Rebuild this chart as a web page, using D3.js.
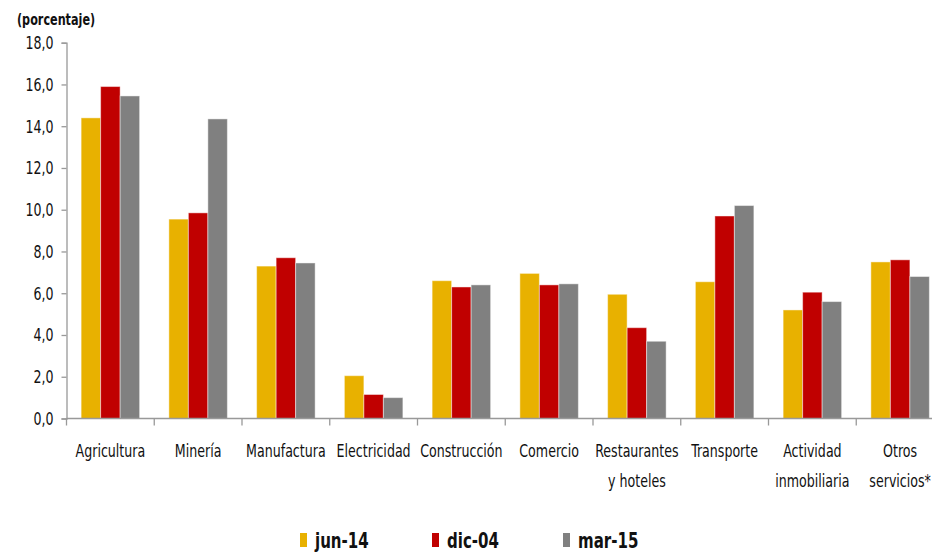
<!DOCTYPE html>
<html>
<head>
<meta charset="utf-8">
<script src="https://cdn.jsdelivr.net/npm/d3@7"></script>
<style>
  html, body { margin: 0; padding: 0; background: #fff; }
  svg { display: block; }
  svg text { font-family: "DejaVu Sans Condensed", "DejaVu Sans", sans-serif; font-stretch: condensed; }
</style>
</head>
<body>
<svg id="chart" width="932" height="555"></svg>
<script>
// Sector categories (second line after "\n")
const categories = [
  "Agricultura", "Minería", "Manufactura", "Electricidad", "Construcción",
  "Comercio", "Restaurantes\ny hoteles", "Transporte", "Actividad\ninmobiliaria", "Otros\nservicios*"
];
const seriesNames = ["jun-14", "dic-04", "mar-15"];
const seriesColors = ["#E8B100", "#C00000", "#808080"];
const jun14 = [14.4, 9.55, 7.3, 2.05, 6.6, 6.95, 5.95, 6.55, 5.2, 7.5];
const dic04 = [15.9, 9.85, 7.7, 1.15, 6.3, 6.4, 4.35, 9.7, 6.05, 7.6];
const mar15 = [15.45, 14.35, 7.45, 1.0, 6.4, 6.45, 3.7, 10.2, 5.6, 6.8];
const yTicks = [0, 2, 4, 6, 8, 10, 12, 14, 16, 18];

const series = [jun14, dic04, mar15];
const svg = d3.select("#chart");

const x0 = 66.5, x1 = 944, yBottom = 418.5, yTop = 42.7;

const x = d3.scaleBand().domain(categories).range([x0, x1])
  .paddingInner(1 / 3).paddingOuter(1 / 6);
const xs = d3.scaleBand().domain(seriesNames).range([0, x.bandwidth()]);
const y = d3.scaleLinear().domain([0, 18]).range([yBottom, yTop]);

const fmt = v => d3.format(".1f")(v).replace(".", ",");

// Y axis (labels drawn separately so they can be narrowed)
const yAxis = svg.append("g").attr("transform", `translate(${x0},0)`)
  .call(d3.axisLeft(y).tickValues(yTicks).tickFormat("").tickSize(5));
yAxis.select(".domain").attr("stroke", "#999").attr("stroke-width", 1.3);
yAxis.selectAll(".tick line").attr("stroke", "#999").attr("stroke-width", 1.3);
svg.append("g").selectAll("g").data(yTicks).join("g")
  .attr("transform", d => `translate(${x0 - 13},${y(d)}) scale(0.8,1)`)
  .append("text")
  .attr("text-anchor", "end").attr("dy", "0.36em")
  .attr("font-size", 17.5).attr("fill", "#111")
  .text(fmt);

// Unit label
svg.append("g").attr("transform", "translate(17,25) scale(0.78,1)")
  .append("text")
  .attr("font-size", 16).attr("font-weight", "bold").attr("fill", "#111")
  .text("(porcentaje)");

// Bars
const groups = svg.append("g").selectAll("g").data(categories).join("g")
  .attr("transform", d => `translate(${x(d)},0)`);
groups.selectAll("rect")
  .data((d, i) => series.map((s, k) => ({ key: seriesNames[k], value: s[i], color: seriesColors[k] })))
  .join("rect")
  .attr("x", d => xs(d.key))
  .attr("width", xs.bandwidth())
  .attr("y", d => y(d.value))
  .attr("height", d => y(0) - y(d.value))
  .attr("fill", d => d.color)
  .attr("stroke", "rgba(255,255,255,0.45)")
  .attr("stroke-width", 1);

// X axis line and separator ticks at category boundaries
const xAxis = svg.append("g");
xAxis.append("line").attr("x1", x0).attr("x2", x1).attr("y1", yBottom).attr("y2", yBottom)
  .attr("stroke", "#999").attr("stroke-width", 1.5);
const bounds = categories.map(c => x(c) - x.step() * x.paddingInner() / 2);
bounds.push(x1);
xAxis.selectAll("line.sep").data(bounds).join("line").attr("class", "sep")
  .attr("x1", d => d).attr("x2", d => d)
  .attr("y1", yBottom).attr("y2", yBottom + 7)
  .attr("stroke", "#999").attr("stroke-width", 1.3);

// Category labels, narrowed horizontally to fit each slot
const labels = svg.append("g").selectAll("g").data(categories).join("g")
  .attr("transform", d => `translate(${x(d) + x.bandwidth() / 2},457) scale(0.78,1)`);
labels.append("text")
  .attr("text-anchor", "middle")
  .attr("font-size", 18).attr("fill", "#111")
  .selectAll("tspan").data(d => d.split("\n")).join("tspan")
  .attr("x", 0)
  .attr("dy", (d, i) => i === 0 ? 0 : 30)
  .text(d => d);

// Legend
const legendX = [300, 432, 563];
const legend = svg.append("g").selectAll("g").data(seriesNames).join("g")
  .attr("transform", (d, i) => `translate(${legendX[i]},533)`);
legend.append("rect").attr("width", 7).attr("height", 14)
  .attr("fill", (d, i) => seriesColors[i]);
legend.append("g").attr("transform", "translate(15,15) scale(0.76,1)")
  .append("text")
  .attr("font-size", 22).attr("font-weight", "bold").attr("fill", "#111")
  .text(d => d);
</script>
</body>
</html>
